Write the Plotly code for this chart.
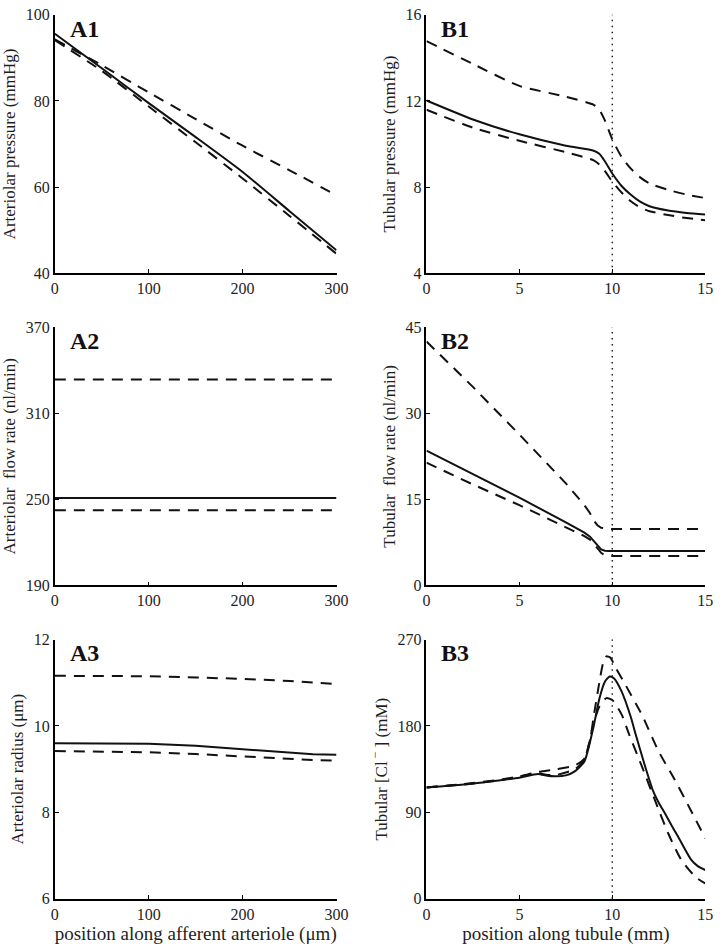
import plotly.graph_objects as go

# ---------------- data ----------------
# A1: arteriolar pressure (mmHg) vs position along afferent arteriole (um)
a1_x = [0, 50, 100, 150, 200, 250, 300]
a1_solid = [95.6, 87.6, 79.5, 71.6, 63.5, 54.4, 45.3]
a1_dash_hi = [94.3, 88.3, 82.0, 75.8, 69.6, 63.9, 58.1]
a1_dash_lo = [94.1, 87.0, 78.7, 70.4, 62.0, 53.3, 44.5]

# A2: arteriolar flow rate (nl/min)
a2_x = [0, 300]
a2_solid = [251.0, 251.0]
a2_dash_hi = [333.5, 333.5]
a2_dash_lo = [242.5, 242.5]

# A3: arteriolar radius (um)
a3_x = [0, 50, 100, 150, 200, 250, 275, 300]
a3_solid = [9.60, 9.60, 9.585, 9.54, 9.46, 9.385, 9.345, 9.335]
a3_dash_hi = [11.16, 11.16, 11.15, 11.12, 11.09, 11.04, 11.01, 10.97]
a3_dash_lo = [9.42, 9.41, 9.39, 9.35, 9.29, 9.23, 9.21, 9.20]

# B1: tubular pressure (mmHg) vs position along tubule (mm)
b1_x = [0, 2.5, 5, 7.5, 9, 9.3, 9.6, 10, 10.5, 11, 11.5, 12, 13, 14, 15]
b1_solid = [12.02, 11.14, 10.45, 9.92, 9.69, 9.55, 9.20, 8.63, 8.05, 7.64, 7.32, 7.11, 6.91, 6.80, 6.73]
b1_dash_hi = [14.78, 13.72, 12.70, 12.20, 11.82, 11.60, 11.10, 10.22, 9.40, 8.86, 8.45, 8.17, 7.87, 7.65, 7.49]
b1_dash_lo = [11.59, 10.76, 10.15, 9.62, 9.24, 9.05, 8.75, 8.25, 7.75, 7.34, 7.05, 6.88, 6.70, 6.56, 6.46]

# B2: tubular flow rate (nl/min)
b2_solid_x = [0, 2.5, 5, 7.5, 8.5, 8.8, 9.0, 9.2, 9.4, 9.6, 9.8, 15]
b2_solid = [23.5, 19.4, 15.3, 11.0, 9.2, 8.5, 7.7, 6.9, 6.3, 6.05, 6.0, 6.0]
b2_hi_x = [0, 2.5, 5, 7.5, 8.5, 8.8, 9.0, 9.2, 9.4, 9.6, 9.8, 15]
b2_dash_hi = [42.5, 34.6, 26.3, 17.8, 14.0, 12.6, 11.3, 10.5, 10.05, 9.9, 9.86, 9.86]
b2_lo_x = [0, 2.5, 5, 7.5, 8.5, 8.8, 9.0, 9.2, 9.4, 9.6, 9.8, 15]
b2_dash_lo = [21.4, 17.6, 14.0, 10.2, 8.6, 8.0, 7.3, 6.5, 5.7, 5.25, 5.15, 5.15]

# B3: tubular [Cl-] (mM)
b3_solid_x = [0, 2, 4, 5, 6, 6.5, 7, 7.5, 8, 8.5, 9.0, 9.3, 9.6, 9.86, 10.1, 10.5, 11.0, 11.26,
              11.78, 12.2, 12.5, 12.83, 13.2, 13.53, 14.23, 14.6, 15]
b3_solid = [116, 119, 123.5, 126, 130, 128, 127.5, 128.5, 133, 143, 180, 208, 226, 231.5, 229.5, 216, 189, 171,
            137, 112, 100, 89, 76, 65, 41, 34, 30]
b3_hi_x = [0, 2, 4, 5, 6, 7, 8, 8.5, 8.8, 9.0, 9.3, 9.5, 9.68, 9.9, 10.2, 10.73, 11.61, 12.48, 13.36, 14.23, 15]
b3_dash_hi = [116, 119.5, 124, 127.5, 132, 135, 139, 146, 165, 190, 225, 245, 252.5, 251, 240, 222, 191, 154, 124, 92, 63]
b3_lo_x = [0, 2, 4, 5, 6, 6.5, 7, 8, 8.5, 9.0, 9.3, 9.68, 10.0, 10.5, 10.91, 11.61, 12.31, 13.0, 13.7, 14.49, 15]
b3_dash_lo = [116, 119, 123.5, 127, 130.6, 129, 129, 135, 145, 183, 200, 209, 207, 192, 171, 137, 102, 68.5, 41, 22.5, 16]

vline_x = 10

a_xticks = [0, 100, 200, 300]
b_xticks = [0, 5, 10, 15]
a1_yticks = [40, 60, 80, 100]
a2_yticks = [190, 250, 310, 370]
a3_yticks = [6, 8, 10, 12]
b1_yticks = [4, 8, 12, 16]
b2_yticks = [0, 15, 30, 45]
b3_yticks = [0, 90, 180, 270]

# ---------------- figure ----------------
W, H = 726, 951
SERIF = "Liberation Serif, Times New Roman, serif"
TXT = "#1e1e1e"

fig = go.Figure()

panels = [
    # (axis index, x arrays, solid, hi, lo, yticks, xticks, ytitle, label, line shape)
    (1, (a1_x, a1_x, a1_x), a1_solid, a1_dash_hi, a1_dash_lo, a1_yticks, a_xticks,
     "Arteriolar pressure (mmHg)", "A1", "spline"),
    (2, (b1_x, b1_x, b1_x), b1_solid, b1_dash_hi, b1_dash_lo, b1_yticks, b_xticks,
     "Tubular pressure (mmHg)", "B1", "spline"),
    (3, (a2_x, a2_x, a2_x), a2_solid, a2_dash_hi, a2_dash_lo, a2_yticks, a_xticks,
     "Arteriolar\u00a0 flow rate (nl/min)", "A2", "linear"),
    (4, (b2_solid_x, b2_hi_x, b2_lo_x), b2_solid, b2_dash_hi, b2_dash_lo, b2_yticks, b_xticks,
     "Tubular\u00a0 flow rate (nl/min)", "B2", "linear"),
    (5, (a3_x, a3_x, a3_x), a3_solid, a3_dash_hi, a3_dash_lo, a3_yticks, a_xticks,
     "Arteriolar radius (\u03bcm)", "A3", "linear"),
    (6, (b3_solid_x, b3_hi_x, b3_lo_x), b3_solid, b3_dash_hi, b3_dash_lo, b3_yticks, b_xticks,
     "Tubular [Cl<sup>\u00a0\u2212</sup>\u00a0] (mM)", "B3", "spline"),
]

# pixel layout of plot areas in the 726x951 window
cols_px = [(52, 340), (432, 717)]
rows_px = [(7, 270), (325, 588), (643, 907)]

DASH = "11px,8px"
LINEC = "#111111"

for idx, xs, ys, yh, yl, yt, xt, ytitle, lab, shape in panels:
    r = (idx - 1) // 2
    c = (idx - 1) % 2
    xa = "x" if idx == 1 else f"x{idx}"
    ya = "y" if idx == 1 else f"y{idx}"
    for xv, yv, dash in ((xs[1], yh, DASH), (xs[2], yl, DASH), (xs[0], ys, "solid")):
        ln = dict(color=LINEC, width=2, dash=dash, shape=shape)
        if shape == "spline":
            ln["smoothing"] = 0.6
        fig.add_trace(go.Scatter(x=xv, y=yv, mode="lines", xaxis=xa, yaxis=ya, line=ln,
                                 showlegend=False, hoverinfo="skip"))
    x0, x1 = cols_px[c]
    y0, y1 = rows_px[r]
    common = dict(showline=True, linecolor="black", linewidth=1.6, mirror=False,
                  ticks="inside", ticklen=4, tickwidth=1, tickcolor="black",
                  showgrid=False, zeroline=False, ticklabeloverflow="allow",
                  tickfont=dict(family=SERIF, size=16, color=TXT))
    fig.layout[f"xaxis{'' if idx == 1 else idx}"] = dict(
        domain=[x0 / W, x1 / W], anchor=ya, range=[xt[0], xt[-1]], tickvals=xt, **common)
    fig.layout[f"yaxis{'' if idx == 1 else idx}"] = dict(
        domain=[1 - y1 / H, 1 - y0 / H], anchor=xa, range=[yt[0], yt[-1]], tickvals=yt,
        title=dict(text=ytitle, font=dict(family=SERIF, size=17, color=TXT), standoff=6),
        **common)
    fig.add_annotation(text=f"<b>{lab}</b>", xref=f"{xa} domain", yref=f"{ya} domain",
                       x=0.045, y=0.947, xanchor="left", yanchor="middle", showarrow=False,
                       font=dict(family=SERIF, size=24, color="#111111"))
    if c == 1:
        fig.add_shape(type="line", xref=xa, yref=f"{ya} domain", x0=vline_x, x1=vline_x, y0=0, y1=1,
                      line=dict(color="#222222", width=1.5, dash="1.5px,4.5px"))

fig.layout.xaxis5.title = dict(text="position along afferent arteriole (\u03bcm)",
                               font=dict(family=SERIF, size=19, color=TXT), standoff=3)
fig.layout.xaxis6.title = dict(text="position along tubule (mm)",
                               font=dict(family=SERIF, size=19, color=TXT), standoff=3)

fig.update_layout(width=W, height=H, margin=dict(l=0, r=0, t=0, b=0),
                  paper_bgcolor="white", plot_bgcolor="white", showlegend=False)

# remove the browser's default 8px body margin so the figure fills the window exactly
fig.write_html("out.html", config={"displayModeBar": False},
               post_script="document.body.style.margin='0px';document.body.style.overflow='hidden';")
